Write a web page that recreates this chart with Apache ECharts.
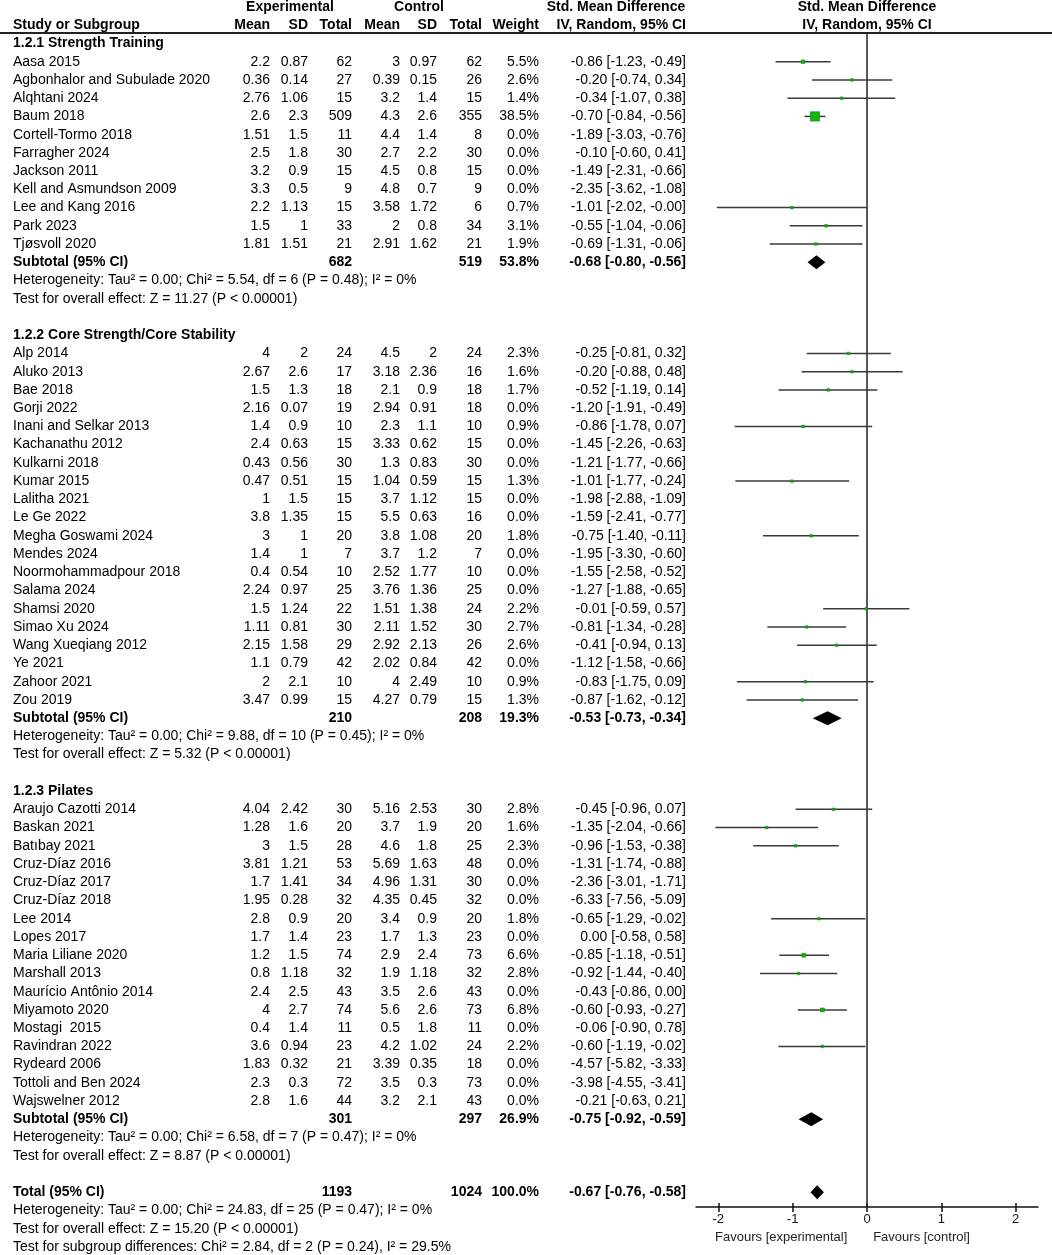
<!DOCTYPE html>
<html><head><meta charset="utf-8">
<script src="https://cdn.jsdelivr.net/npm/echarts@6/dist/echarts.min.js"></script>
<style>html,body{margin:0;padding:0;background:#fff}#c{width:1052px;height:1255px}</style>
</head><body><div id="c"></div><script>
// ---------------- DATA ----------------
const groupTitles = ['1.2.1 Strength Training', '1.2.2 Core Strength/Core Stability', '1.2.3 Pilates'];
const groupSizes = [11, 20, 17];
const studyNames = [
  'Aasa 2015','Agbonhalor and Subulade 2020','Alqhtani 2024','Baum 2018','Cortell-Tormo 2018','Farragher 2024','Jackson 2011','Kell and Asmundson 2009','Lee and Kang 2016','Park 2023','Tjøsvoll 2020',
  'Alp 2014','Aluko 2013','Bae 2018','Gorji 2022','Inani and Selkar 2013','Kachanathu 2012','Kulkarni 2018','Kumar 2015','Lalitha 2021','Le Ge 2022','Megha Goswami 2024','Mendes 2024','Noormohammadpour 2018','Salama 2024','Shamsi 2020','Simao Xu 2024','Wang Xueqiang 2012','Ye 2021','Zahoor 2021','Zou 2019',
  'Araujo Cazotti 2014','Baskan 2021','Batıbay 2021','Cruz-Díaz 2016','Cruz-Díaz 2017','Cruz-Díaz 2018','Lee 2014','Lopes 2017','Maria Liliane 2020','Marshall 2013','Maurício Antônio 2014','Miyamoto 2020','Mostagi  2015','Ravindran 2022','Rydeard 2006','Tottoli and Ben 2024','Wajswelner 2012'
];
const expMean = [2.2,0.36,2.76,2.6,1.51,2.5,3.2,3.3,2.2,1.5,1.81, 4,2.67,1.5,2.16,1.4,2.4,0.43,0.47,1,3.8,3,1.4,0.4,2.24,1.5,1.11,2.15,1.1,2,3.47, 4.04,1.28,3,3.81,1.7,1.95,2.8,1.7,1.2,0.8,2.4,4,0.4,3.6,1.83,2.3,2.8];
const expSD = [0.87,0.14,1.06,2.3,1.5,1.8,0.9,0.5,1.13,1,1.51, 2,2.6,1.3,0.07,0.9,0.63,0.56,0.51,1.5,1.35,1,1,0.54,0.97,1.24,0.81,1.58,0.79,2.1,0.99, 2.42,1.6,1.5,1.21,1.41,0.28,0.9,1.4,1.5,1.18,2.5,2.7,1.4,0.94,0.32,0.3,1.6];
const expTotal = [62,27,15,509,11,30,15,9,15,33,21, 24,17,18,19,10,15,30,15,15,15,20,7,10,25,22,30,29,42,10,15, 30,20,28,53,34,32,20,23,74,32,43,74,11,23,21,72,44];
const ctlMean = [3,0.39,3.2,4.3,4.4,2.7,4.5,4.8,3.58,2,2.91, 4.5,3.18,2.1,2.94,2.3,3.33,1.3,1.04,3.7,5.5,3.8,3.7,2.52,3.76,1.51,2.11,2.92,2.02,4,4.27, 5.16,3.7,4.6,5.69,4.96,4.35,3.4,1.7,2.9,1.9,3.5,5.6,0.5,4.2,3.39,3.5,3.2];
const ctlSD = [0.97,0.15,1.4,2.6,1.4,2.2,0.8,0.7,1.72,0.8,1.62, 2,2.36,0.9,0.91,1.1,0.62,0.83,0.59,1.12,0.63,1.08,1.2,1.77,1.36,1.38,1.52,2.13,0.84,2.49,0.79, 2.53,1.9,1.8,1.63,1.31,0.45,0.9,1.3,2.4,1.18,2.6,2.6,1.8,1.02,0.35,0.3,2.1];
const ctlTotal = [62,26,15,355,8,30,15,9,6,34,21, 24,16,18,18,10,15,30,15,15,16,20,7,10,25,24,30,26,42,10,15, 30,20,25,48,30,32,20,23,73,32,43,73,11,24,18,73,43];
const weightPct = [5.5,2.6,1.4,38.5,0,0,0,0,0.7,3.1,1.9, 2.3,1.6,1.7,0,0.9,0,0,1.3,0,0,1.8,0,0,0,2.2,2.7,2.6,0,0.9,1.3, 2.8,1.6,2.3,0,0,0,1.8,0,6.6,2.8,0,6.8,0,2.2,0,0,0];
const smd = [-0.86,-0.20,-0.34,-0.70,-1.89,-0.10,-1.49,-2.35,-1.01,-0.55,-0.69, -0.25,-0.20,-0.52,-1.20,-0.86,-1.45,-1.21,-1.01,-1.98,-1.59,-0.75,-1.95,-1.55,-1.27,-0.01,-0.81,-0.41,-1.12,-0.83,-0.87, -0.45,-1.35,-0.96,-1.31,-2.36,-6.33,-0.65,0.00,-0.85,-0.92,-0.43,-0.60,-0.06,-0.60,-4.57,-3.98,-0.21];
const ciLow = [-1.23,-0.74,-1.07,-0.84,-3.03,-0.60,-2.31,-3.62,-2.02,-1.04,-1.31, -0.81,-0.88,-1.19,-1.91,-1.78,-2.26,-1.77,-1.77,-2.88,-2.41,-1.40,-3.30,-2.58,-1.88,-0.59,-1.34,-0.94,-1.58,-1.75,-1.62, -0.96,-2.04,-1.53,-1.74,-3.01,-7.56,-1.29,-0.58,-1.18,-1.44,-0.86,-0.93,-0.90,-1.19,-5.82,-4.55,-0.63];
const ciHigh = [-0.49,0.34,0.38,-0.56,-0.76,0.41,-0.66,-1.08,-0.004,-0.06,-0.06, 0.32,0.48,0.14,-0.49,0.07,-0.63,-0.66,-0.24,-1.09,-0.77,-0.11,-0.60,-0.52,-0.65,0.57,-0.28,0.13,-0.66,0.09,-0.12, 0.07,-0.66,-0.38,-0.88,-1.71,-5.09,-0.02,0.58,-0.51,-0.40,0.00,-0.27,0.78,-0.02,-3.33,-3.41,0.21];

const subExpTotal = [682, 210, 301];
const subCtlTotal = [519, 208, 297];
const subWeight = [53.8, 19.3, 26.9];
const subSmd = [-0.68, -0.53, -0.75];
const subLow = [-0.80, -0.73, -0.92];
const subHigh = [-0.56, -0.34, -0.59];
const hetTau = [0.00, 0.00, 0.00];
const hetChi = [5.54, 9.88, 6.58];
const hetDf = [6, 10, 7];
const hetP = [0.48, 0.45, 0.47];
const hetI2 = [0, 0, 0];
const effZ = [11.27, 5.32, 8.87];

const totalExp = 1193, totalCtl = 1024, totalWeight = 100.0;
const totalSmd = -0.67, totalLow = -0.76, totalHigh = -0.58;
const totalHet = {tau: 0.00, chi: 24.83, df: 25, p: 0.47, i2: 0};
const totalZ = 15.20;
const subgroupDiff = {chi: 2.84, df: 2, p: 0.24, i2: 29.5};

const axisTicks = [-2, -1, 0, 1, 2];
const favourLabels = ['Favours [experimental]', 'Favours [control]'];

// ---------------- LAYOUT ----------------
const FF = "'Liberation Sans Narrow','Arial Narrow','Liberation Sans',Arial,sans-serif";
const FS = 14;
const ROW0 = 7, ROWH = 18.235;          // pixel centre of row 0 and row pitch
const GRID_TOP = 33, GRID_BOTTOM_PX = 1207;
const Y_MIN = (GRID_TOP - ROW0) / ROWH, Y_MAX = (GRID_BOTTOM_PX - ROW0) / ROWH;
const COL = {name: 13, em: 270, esd: 308, en: 352, cm: 400, csd: 437, cn: 482, w: 539, ci: 686, expHead: 290, ctlHead: 419, ciHead: 616};

const f2 = v => v.toFixed(2);
const ciText = (e, l, h) => f2(e) + ' [' + f2(l) + ', ' + f2(h) + ']';

const texts = [];   // {x,r,t,a,b}
const forestRows = []; // studies with weight
const diamonds = [];
function T(x, r, t, a, b) { texts.push({x, r, t, a: a || 'left', b: !!b}); }

// headers
T(COL.expHead, 0, 'Experimental', 'center', true);
T(COL.ctlHead, 0, 'Control', 'center', true);
T(COL.ciHead, 0, 'Std. Mean Difference', 'center', true);
T(COL.name, 1, 'Study or Subgroup', 'left', true);
T(COL.em, 1, 'Mean', 'right', true); T(COL.esd, 1, 'SD', 'right', true); T(COL.en, 1, 'Total', 'right', true);
T(COL.cm, 1, 'Mean', 'right', true); T(COL.csd, 1, 'SD', 'right', true); T(COL.cn, 1, 'Total', 'right', true);
T(COL.w, 1, 'Weight', 'right', true); T(COL.ci, 1, 'IV, Random, 95% CI', 'right', true);

let row = 2, si = 0;
for (let g = 0; g < groupTitles.length; g++) {
  T(COL.name, row, groupTitles[g], 'left', true); row++;
  for (let k = 0; k < groupSizes[g]; k++, si++, row++) {
    T(COL.name, row, studyNames[si]);
    T(COL.em, row, String(expMean[si]), 'right'); T(COL.esd, row, String(expSD[si]), 'right'); T(COL.en, row, String(expTotal[si]), 'right');
    T(COL.cm, row, String(ctlMean[si]), 'right'); T(COL.csd, row, String(ctlSD[si]), 'right'); T(COL.cn, row, String(ctlTotal[si]), 'right');
    T(COL.w, row, weightPct[si].toFixed(1) + '%', 'right');
    T(COL.ci, row, ciText(smd[si], ciLow[si], ciHigh[si]), 'right');
    if (weightPct[si] > 0) forestRows.push([smd[si], row, weightPct[si], ciLow[si], ciHigh[si]]);
  }
  T(COL.name, row, 'Subtotal (95% CI)', 'left', true);
  T(COL.en, row, String(subExpTotal[g]), 'right', true);
  T(COL.cn, row, String(subCtlTotal[g]), 'right', true);
  T(COL.w, row, subWeight[g].toFixed(1) + '%', 'right', true);
  T(COL.ci, row, ciText(subSmd[g], subLow[g], subHigh[g]), 'right', true);
  diamonds.push([subLow[g], subSmd[g], subHigh[g], row]);
  row++;
  T(COL.name, row, 'Heterogeneity: Tau² = ' + f2(hetTau[g]) + '; Chi² = ' + f2(hetChi[g]) + ', df = ' + hetDf[g] + ' (P = ' + f2(hetP[g]) + '); I² = ' + hetI2[g] + '%'); row++;
  T(COL.name, row, 'Test for overall effect: Z = ' + f2(effZ[g]) + ' (P < 0.00001)'); row++;
  row++; // blank
}
T(COL.name, row, 'Total (95% CI)', 'left', true);
T(COL.en, row, String(totalExp), 'right', true);
T(COL.cn, row, String(totalCtl), 'right', true);
T(COL.w, row, totalWeight.toFixed(1) + '%', 'right', true);
T(COL.ci, row, ciText(totalSmd, totalLow, totalHigh), 'right', true);
diamonds.push([totalLow, totalSmd, totalHigh, row]);
row++;
T(COL.name, row, 'Heterogeneity: Tau² = ' + f2(totalHet.tau) + '; Chi² = ' + f2(totalHet.chi) + ', df = ' + totalHet.df + ' (P = ' + f2(totalHet.p) + '); I² = ' + totalHet.i2 + '%'); row++;
T(COL.name, row, 'Test for overall effect: Z = ' + f2(totalZ) + ' (P < 0.00001)'); row++;
T(COL.name, row, 'Test for subgroup differences: Chi² = ' + f2(subgroupDiff.chi) + ', df = ' + subgroupDiff.df + ' (P = ' + f2(subgroupDiff.p) + '), I² = ' + subgroupDiff.i2 + '%'); row++;

// ---------------- CHART ----------------
const chart = echarts.init(document.getElementById('c'), null, {renderer: 'canvas'});
const FOREST_LEFT = 696, FOREST_RIGHT = 1052 - 1038;
const XMIN = -2.3, XMAX = 2.3;

const option = {
  backgroundColor: '#fff',
  animation: false,
  grid: [
    {left: 0, right: 0, top: GRID_TOP, bottom: 1255 - GRID_BOTTOM_PX, containLabel: false},
    {left: FOREST_LEFT, right: FOREST_RIGHT, top: GRID_TOP, bottom: 1255 - GRID_BOTTOM_PX, containLabel: false}
  ],
  xAxis: [
    {gridIndex: 0, type: 'value', min: 0, max: 1052, show: false},
    {gridIndex: 1, type: 'value', min: XMIN, max: XMAX, position: 'bottom',
      axisLine: {show: true, onZero: false, lineStyle: {color: '#111', width: 1.5}},
      axisTick: {show: true, customValues: axisTicks, length: 5, lineStyle: {color: '#111', width: 1.5}},
      axisLabel: {show: true, customValues: axisTicks, color: '#111', fontSize: 13, fontFamily: "'Liberation Sans',Arial,sans-serif", margin: 6},
      splitLine: {show: false}},
    {gridIndex: 1, type: 'value', min: XMIN, max: XMAX, position: 'bottom', offset: 0,
      axisLine: {show: false},
      axisTick: {show: true, inside: true, customValues: axisTicks, length: 4, lineStyle: {color: '#111', width: 1.5}},
      axisLabel: {show: false}, splitLine: {show: false}}
  ],
  yAxis: [
    {gridIndex: 0, type: 'value', min: Y_MIN, max: Y_MAX, inverse: true, show: false},
    {gridIndex: 1, type: 'value', min: Y_MIN, max: Y_MAX, inverse: true, show: false}
  ],
  series: [
    { // header rule
      type: 'custom', xAxisIndex: 0, yAxisIndex: 0, clip: false, silent: true,
      data: [[0, 1052, Y_MIN]],
      renderItem: (p, api) => {
        const a = api.coord([api.value(0), api.value(2)]), b = api.coord([api.value(1), api.value(2)]);
        return {type: 'line', shape: {x1: a[0], y1: a[1], x2: b[0], y2: b[1]}, style: {stroke: '#222', lineWidth: 2}};
      }
    },
    { // table text
      type: 'custom', xAxisIndex: 0, yAxisIndex: 0, clip: false, silent: true,
      data: texts.map(t => [t.x, t.r]),
      renderItem: (p, api) => {
        const it = texts[p.dataIndex];
        const c = api.coord([api.value(0), api.value(1)]);
        return {type: 'text', x: c[0], y: c[1], style: {text: it.t, textAlign: it.a, textVerticalAlign: 'middle',
          font: (it.b ? 'bold ' : '') + FS + 'px ' + FF, fill: '#000'}};
      }
    },
    { // forest header text
      type: 'custom', xAxisIndex: 1, yAxisIndex: 1, clip: false, silent: true,
      data: [[0, 0, 'Std. Mean Difference'], [0, 1, 'IV, Random, 95% CI']],
      renderItem: (p, api) => {
        const c = api.coord([api.value(0), api.value(1)]);
        const t = p.dataIndex === 0 ? 'Std. Mean Difference' : 'IV, Random, 95% CI';
        return {type: 'text', x: c[0], y: c[1], style: {text: t, textAlign: 'center', textVerticalAlign: 'middle', font: 'bold ' + FS + 'px ' + FF, fill: '#000'}};
      }
    },
    { // zero line
      type: 'custom', xAxisIndex: 1, yAxisIndex: 1, clip: false, silent: true,
      data: [[0, Y_MIN, Y_MAX]],
      renderItem: (p, api) => {
        const a = api.coord([api.value(0), api.value(1)]), b = api.coord([api.value(0), api.value(2)]);
        return {type: 'line', shape: {x1: a[0], y1: a[1], x2: b[0], y2: b[1]}, style: {stroke: '#222', lineWidth: 1.5}};
      }
    },
    { // CI whiskers
      type: 'custom', xAxisIndex: 1, yAxisIndex: 1, clip: true, silent: true,
      data: forestRows.map(r => [r[3], r[4], r[1]]),
      renderItem: (p, api) => {
        const a = api.coord([api.value(0), api.value(2)]), b = api.coord([api.value(1), api.value(2)]);
        return {type: 'line', shape: {x1: a[0], y1: a[1], x2: b[0], y2: b[1]}, style: {stroke: '#3a3a3a', lineWidth: 1.5}};
      }
    },
    { // point estimates
      type: 'scatter', xAxisIndex: 1, yAxisIndex: 1, silent: true, symbol: 'rect',
      data: forestRows.map(r => [r[0], r[1], r[2]]),
      symbolSize: v => Math.max(2.5, 1.5 * Math.sqrt(v[2])),
      itemStyle: {color: '#11b411', borderColor: '#0a8a0a', borderWidth: 0.6, opacity: 1}
    },
    { // diamonds
      type: 'custom', xAxisIndex: 1, yAxisIndex: 1, clip: false, silent: true,
      data: diamonds,
      renderItem: (p, api) => {
        const r = api.value(3);
        const L = api.coord([api.value(0), r]), C = api.coord([api.value(1), r]), R = api.coord([api.value(2), r]);
        const h = 7;
        return {type: 'polygon', shape: {points: [[L[0], L[1]], [C[0], C[1] - h], [R[0], R[1]], [C[0], C[1] + h]]}, style: {fill: '#000'}};
      }
    },
    { // favours labels
      type: 'custom', xAxisIndex: 1, yAxisIndex: 1, clip: false, silent: true,
      data: [[-0.265, 67.5], [0.083, 67.5]],
      renderItem: (p, api) => {
        const c = api.coord([api.value(0), api.value(1)]);
        return {type: 'text', x: c[0], y: c[1], style: {text: favourLabels[p.dataIndex], textAlign: p.dataIndex === 0 ? 'right' : 'left',
          textVerticalAlign: 'middle', font: '13px ' + "'Liberation Sans',Arial,sans-serif", fill: '#222'}};
      }
    }
  ]
};
chart.setOption(option);
</script></body></html>
